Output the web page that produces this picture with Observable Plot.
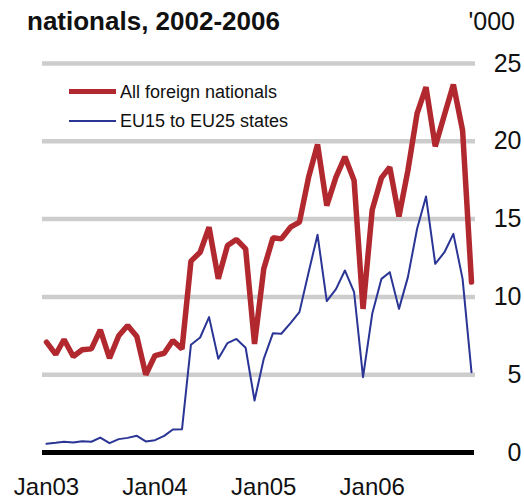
<!DOCTYPE html>
<html>
<head>
<meta charset="utf-8">
<script src="https://cdn.jsdelivr.net/npm/d3@7"></script>
<script src="https://cdn.jsdelivr.net/npm/@observablehq/plot@0.6"></script>
<style>
  html, body { margin: 0; padding: 0; background: #fff; }
  body { width: 524px; height: 499px; overflow: hidden; font-family: "Liberation Sans", Arial, sans-serif; position: relative; }
  #title { position: relative; height: 40px; }
  #title .t { position: absolute; left: 27px; top: 8px; font-size: 26px; font-weight: bold; line-height: 26px; color: #111; white-space: nowrap; }
  #title .u { position: absolute; right: 9px; top: 9px; font-size: 25px; line-height: 25px; color: #111; }
  .sw { position: absolute; left: 69px; width: 47px; }
  .lt { position: absolute; left: 120px; font-size: 18px; line-height: 18px; color: #111; white-space: nowrap; }
</style>
</head>
<body>
<div id="title"><span class="t">nationals, 2002-2006</span><span class="u">'000</span></div>
<div id="chart"></div>
<div id="legend"></div>
<script>
// Monthly figures, thousands, Jan 2003 – Dec 2006
const allForeign = [
  7.09, 6.3, 7.26, 6.17, 6.6, 6.66, 7.88, 6.06, 7.5, 8.16, 7.45, 5.0,
  6.23, 6.38, 7.2, 6.66, 12.3, 12.87, 14.48, 11.16, 13.3, 13.69, 13.09, 6.98,
  11.8, 13.8, 13.73, 14.48, 14.8, 17.7, 19.8, 15.87, 17.7, 19.0, 17.48, 9.23,
  15.6, 17.65, 18.34, 15.17, 18.12, 21.8, 23.48, 19.67, 21.7, 23.65, 20.7, 10.95
];
const eu15to25 = [
  0.56, 0.62, 0.69, 0.64, 0.73, 0.69, 0.96, 0.6, 0.86, 0.94, 1.07, 0.71,
  0.79, 1.07, 1.48, 1.5, 6.93, 7.39, 8.7, 6.02, 7.03, 7.3, 6.73, 3.34,
  6.02, 7.67, 7.63, 8.31, 9.02, 11.59, 13.99, 9.73, 10.5, 11.7, 10.3, 4.84,
  8.91, 11.16, 11.59, 9.23, 11.27, 14.38, 16.45, 12.13, 12.87, 14.05, 11.16, 5.16
];
const seriesNames = ["All foreign nationals", "EU15 to EU25 states"];
const seriesColors = ["#b2282f", "#2a3595"];
const yTicks = [0, 5, 10, 15, 20, 25];
const xTickLabels = ["Jan03", "Jan04", "Jan05", "Jan06"];
const xTickDates = [new Date(Date.UTC(2003,0,1)), new Date(Date.UTC(2004,0,1)), new Date(Date.UTC(2005,0,1)), new Date(Date.UTC(2006,0,1))];

const months = d3.utcMonth.range(new Date(Date.UTC(2003,0,1)), new Date(Date.UTC(2007,0,1)));
const dataRed = months.map((d, i) => ({date: d, value: allForeign[i]}));
const dataBlue = months.map((d, i) => ({date: d, value: eu15to25[i]}));

const chart = Plot.plot({
  width: 524,
  height: 459,
  marginTop: 23,
  marginBottom: 47,
  marginLeft: 46,
  marginRight: 53,
  style: { fontFamily: "Liberation Sans, Arial, sans-serif", color: "#111", background: "#fff", overflow: "visible" },
  x: { type: "utc", domain: [months[0], months[months.length - 1]] },
  y: { domain: [0, 25] },
  marks: [
    Plot.ruleY(yTicks.filter(d => d > 0), { stroke: "#cdcdcd", strokeWidth: 4.5, insetLeft: -4, insetRight: -4 }),
    Plot.ruleY([0], { stroke: "#000", strokeWidth: 5, insetLeft: -4, insetRight: -3 }),
    Plot.lineY(dataBlue, { x: "date", y: "value", stroke: seriesColors[1], strokeWidth: 2 }),
    Plot.lineY(dataRed, { x: "date", y: "value", stroke: seriesColors[0], strokeWidth: 5.5, strokeLinejoin: "miter" }),
    Plot.axisY({ anchor: "right", ticks: yTicks, tickSize: 0, tickPadding: 50, textAnchor: "end", fontSize: 25, label: null }),
    Plot.axisX({ ticks: xTickDates, tickFormat: (d) => xTickLabels[xTickDates.findIndex(t => +t === +d)], tickSize: 0, tickPadding: 25, fontSize: 24, label: null })
  ]
});
document.getElementById("chart").appendChild(chart);

const legend = document.getElementById("legend");
const rows = [{top: 88.5, h: 5, ttop: 82.7}, {top: 119.5, h: 2, ttop: 111.5}];
seriesNames.forEach((name, i) => {
  const sw = document.createElement("div");
  sw.className = "sw";
  sw.style.top = rows[i].top + "px";
  sw.style.height = rows[i].h + "px";
  sw.style.background = seriesColors[i];
  legend.appendChild(sw);
  const t = document.createElement("div");
  t.className = "lt";
  t.style.top = rows[i].ttop + "px";
  t.textContent = name;
  legend.appendChild(t);
});
</script>
</body>
</html>
